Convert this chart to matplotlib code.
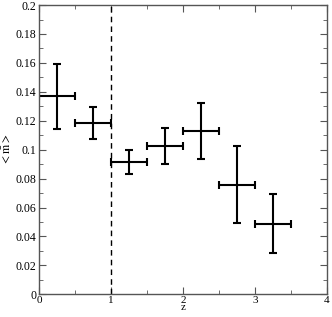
import numpy as np
import matplotlib
matplotlib.use('Agg')
import matplotlib.pyplot as plt
from matplotlib.ticker import MultipleLocator, FuncFormatter

matplotlib.rcParams.update({'font.family': 'Liberation Serif', 'mathtext.fontset': 'stix', 'font.size': 8.5})

# bin centres, half widths and mean values with their errors
z = [0.25, 0.75, 1.25, 1.75, 2.25, 2.75, 3.25]
z_err = [0.25, 0.25, 0.25, 0.25, 0.25, 0.25, 0.25]
m = [0.137, 0.1185, 0.0915, 0.1028, 0.113, 0.0759, 0.0489]
m_err = [0.0225, 0.011, 0.0083, 0.0125, 0.0196, 0.0266, 0.0205]

fig = plt.figure(figsize=(3.32, 3.17), dpi=100)
ax = fig.add_axes([0.1175, 0.0716, 0.8675, 0.9124])

ax.errorbar(z, m, xerr=z_err, yerr=m_err, fmt='none', ecolor='black',
            elinewidth=1.5, capsize=2.8, capthick=1.5)
ax.axvline(1, color='black', linestyle='--', linewidth=1, dashes=(4, 3))

ax.set_xlim(0, 4)
ax.set_ylim(0, 0.2)
ax.xaxis.set_major_locator(MultipleLocator(1))
ax.xaxis.set_minor_locator(MultipleLocator(0.5))
ax.yaxis.set_major_locator(MultipleLocator(0.02))
ax.yaxis.set_minor_locator(MultipleLocator(0.01))
ax.yaxis.set_major_formatter(FuncFormatter(lambda v, p: '%g' % round(v, 2)))
ax.tick_params(which='both', direction='in', top=True, right=True, color='#555555', pad=2)
ax.tick_params(axis='x', pad=1, labelsize=8)
ax.tick_params(which='major', length=5)
ax.tick_params(which='minor', length=3)
for s in ax.spines.values():
    s.set_color('#555555')
    s.set_linewidth(1)

ax.set_xlabel('z', labelpad=-1, fontsize=8)
ax.set_ylabel(r'$<\bar{\mathrm{m}}>$', labelpad=2)

plt.savefig('out.png', dpi=100)
